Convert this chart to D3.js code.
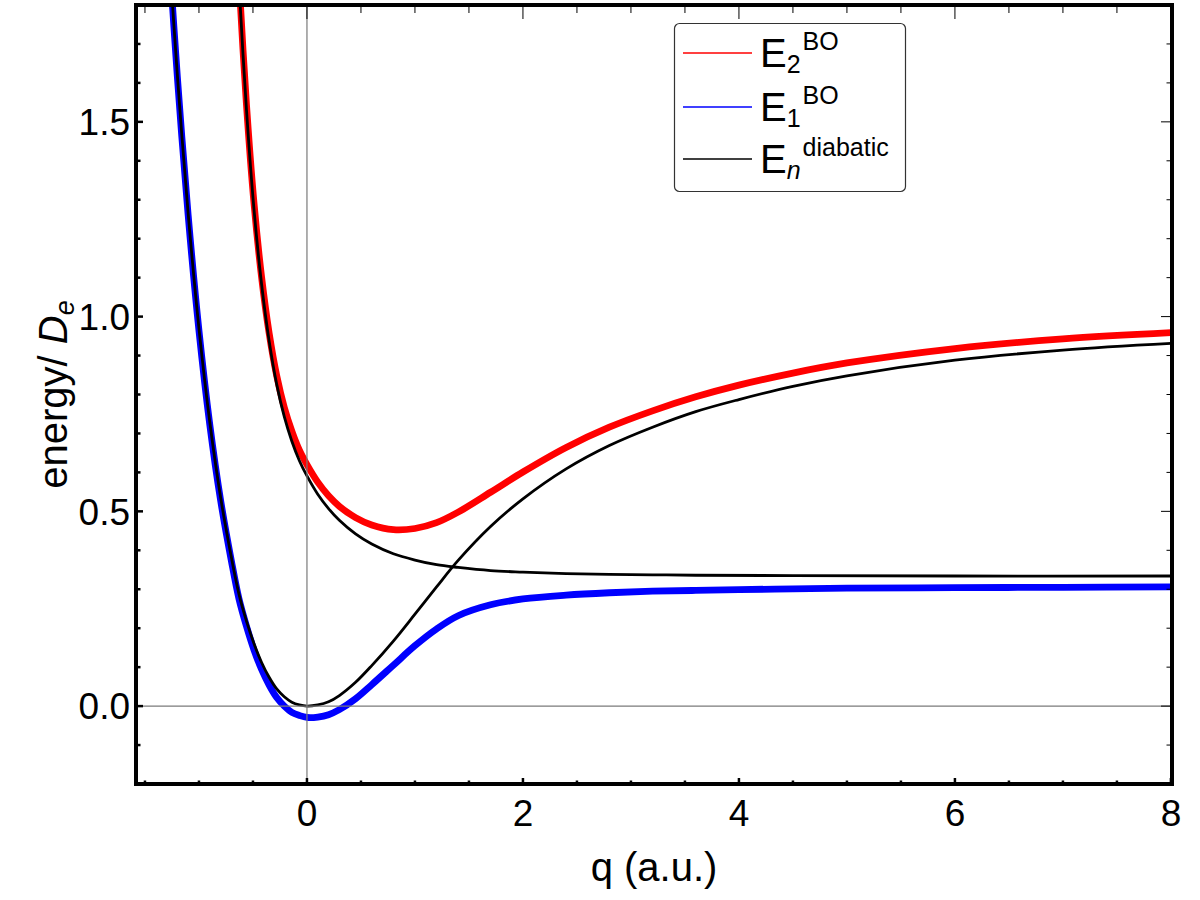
<!DOCTYPE html>
<html>
<head>
<meta charset="utf-8">
<script src="https://cdn.jsdelivr.net/npm/d3@7"></script>
<style>
  body { margin: 0; background: #fff; }
  svg { display: block; font-family: "Liberation Sans", Arial, Helvetica, sans-serif; }
</style>
</head>
<body>
<div id="chart"></div>
<script>
// energies, pairs of [q (a.u.), energy / De]
var e2BO = [[-0.66, 2.037], [-0.63, 1.869], [-0.56, 1.544], [-0.49, 1.290], [-0.42, 1.101], [-0.35, 0.957],
  [-0.28, 0.848], [-0.21, 0.767], [-0.14, 0.706], [-0.07, 0.657], [0, 0.620], [0.1, 0.575], [0.2, 0.540],
  [0.3, 0.513], [0.45, 0.484], [0.6, 0.465], [0.8, 0.453], [1.0, 0.456], [1.2, 0.471], [1.4, 0.498],
  [1.7, 0.549], [2.0, 0.601], [2.4, 0.664], [2.8, 0.716], [3.2, 0.758], [3.6, 0.794], [4.0, 0.824],
  [4.5, 0.855], [5.0, 0.881], [6.0, 0.918], [7.0, 0.943], [8.0, 0.959]];

var e1BO = [[-1.28, 1.946], [-1.2, 1.615], [-1.1, 1.26], [-1.0, 0.964], [-0.9, 0.723], [-0.8, 0.529],
  [-0.7, 0.373], [-0.63, 0.276], [-0.56, 0.205], [-0.49, 0.144], [-0.42, 0.094], [-0.35, 0.054],
  [-0.28, 0.022], [-0.21, 0.000], [-0.14, -0.016], [-0.07, -0.024], [0, -0.029], [0.1, -0.028],
  [0.2, -0.022], [0.3, -0.009], [0.45, 0.019], [0.6, 0.055], [0.8, 0.105], [1.0, 0.155], [1.2, 0.198],
  [1.4, 0.232], [1.7, 0.260], [2.0, 0.275], [2.4, 0.285], [2.8, 0.291], [3.2, 0.295], [3.6, 0.297],
  [4.0, 0.299], [4.5, 0.301], [5.0, 0.303], [6.0, 0.304], [7.0, 0.305], [8.0, 0.306]];

var diabaticLower = [[-1.28, 1.95], [-1.2, 1.62], [-1.1, 1.265], [-1.0, 0.97], [-0.9, 0.73], [-0.8, 0.537],
  [-0.7, 0.382], [-0.63, 0.288], [-0.56, 0.218], [-0.49, 0.160], [-0.42, 0.112], [-0.35, 0.074],
  [-0.28, 0.044], [-0.21, 0.024], [-0.14, 0.010], [-0.07, 0.003], [0, 0], [0.1, 0.003], [0.2, 0.011],
  [0.3, 0.027], [0.45, 0.061], [0.6, 0.104], [0.8, 0.167], [1.0, 0.236], [1.2, 0.306], [1.4, 0.374],
  [1.7, 0.461], [2.0, 0.532], [2.4, 0.609], [2.8, 0.669], [3.2, 0.716], [3.6, 0.756], [4.0, 0.787],
  [4.5, 0.821], [5.0, 0.848], [6.0, 0.888], [7.0, 0.914], [8.0, 0.931]];

var diabaticUpper = [[-0.66, 2.027], [-0.63, 1.858], [-0.56, 1.531], [-0.49, 1.274], [-0.42, 1.083],
  [-0.35, 0.937], [-0.28, 0.826], [-0.21, 0.743], [-0.14, 0.680], [-0.07, 0.630], [0, 0.591], [0.1, 0.544],
  [0.2, 0.507], [0.3, 0.477], [0.45, 0.442], [0.6, 0.416], [0.8, 0.391], [1.0, 0.375], [1.2, 0.363],
  [1.4, 0.356], [1.7, 0.348], [2.0, 0.344], [2.4, 0.340], [2.8, 0.338], [3.2, 0.337], [3.6, 0.336],
  [4.5, 0.335], [6.0, 0.334], [8.0, 0.334]];

var xTicks = [0, 2, 4, 6, 8];
var yTicks = [0.0, 0.5, 1.0, 1.5];

var legendColors = ["#ff0000", "#0000ff", "#000000"];
var legendSubs = ["2", "1", "n"];
var legendSups = ["BO", "BO", "diabatic"];

var width = 1200;
var height = 900;
var plotLeft = 136, plotRight = 1172, plotTop = 5, plotBottom = 784;

var x = d3.scaleLinear().domain([-1.583, 8.01]).range([plotLeft, plotRight]);
var y = d3.scaleLinear().domain([-0.2, 1.8]).range([plotBottom, plotTop]);

const svg = d3.select("#chart")
  .append("svg")
  .attr("width", width)
  .attr("height", height)
  .attr("viewBox", [0, 0, width, height]);

svg.append("rect").attr("width", width).attr("height", height).attr("fill", "#fff");

svg.append("clipPath").attr("id", "plotClip")
  .append("rect")
  .attr("x", plotLeft).attr("y", plotTop)
  .attr("width", plotRight - plotLeft).attr("height", plotBottom - plotTop);

const line = d3.line()
  .x(d => x(d[0]))
  .y(d => y(d[1]))
  .curve(d3.curveCatmullRom.alpha(0.5));

const plot = svg.append("g").attr("clip-path", "url(#plotClip)");

// thick adiabatic curves first, diabatic ones on top
plot.append("path").attr("d", line(e2BO))
  .attr("fill", "none").attr("stroke", "#ff0000").attr("stroke-width", 6.8);
plot.append("path").attr("d", line(e1BO))
  .attr("fill", "none").attr("stroke", "#0000ff").attr("stroke-width", 6.8);
plot.append("path").attr("d", line(diabaticLower))
  .attr("fill", "none").attr("stroke", "#000").attr("stroke-width", 2.8);
plot.append("path").attr("d", line(diabaticUpper))
  .attr("fill", "none").attr("stroke", "#000").attr("stroke-width", 2.8);

// axes through the origin
plot.append("line")
  .attr("x1", x(0)).attr("x2", x(0)).attr("y1", plotTop).attr("y2", plotBottom)
  .attr("stroke", "#7a7a7a").attr("stroke-width", 1.2);
plot.append("line")
  .attr("x1", plotLeft).attr("x2", plotRight).attr("y1", y(0)).attr("y2", y(0))
  .attr("stroke", "#7a7a7a").attr("stroke-width", 1.2);

// frame ticks
var xMinor = d3.range(-1.5, 8.01, 0.5);
var yMinor = d3.range(-0.2, 1.801, 0.1);
const ticks = svg.append("g");

xMinor.forEach(function(v) {
  var major = Math.abs(v - Math.round(v / 2) * 2) < 1e-6;
  ticks.append("line")
    .attr("x1", x(v)).attr("x2", x(v))
    .attr("y1", plotBottom).attr("y2", plotBottom - (major ? 6 : 3.5))
    .attr("stroke", "#000").attr("stroke-width", 2.5);
  ticks.append("line")
    .attr("x1", x(v)).attr("x2", x(v))
    .attr("y1", plotTop).attr("y2", plotTop + (major ? 14 : 8))
    .attr("stroke", "#000").attr("stroke-width", 1);
});

yMinor.forEach(function(v) {
  var major = Math.abs(v - Math.round(v * 2) / 2) < 1e-6;
  ticks.append("line")
    .attr("x1", plotLeft).attr("x2", plotLeft + (major ? 7 : 4.5))
    .attr("y1", y(v)).attr("y2", y(v))
    .attr("stroke", "#000").attr("stroke-width", 2.5);
  ticks.append("line")
    .attr("x1", plotRight).attr("x2", plotRight - (major ? 11 : 5.5))
    .attr("y1", y(v)).attr("y2", y(v))
    .attr("stroke", "#000").attr("stroke-width", 1);
});

// frame
svg.append("rect")
  .attr("x", plotLeft).attr("y", plotTop)
  .attr("width", plotRight - plotLeft).attr("height", plotBottom - plotTop)
  .attr("fill", "none").attr("stroke", "#000").attr("stroke-width", 4);

// tick labels
svg.append("g").selectAll("text").data(xTicks).join("text")
  .attr("x", d => x(d)).attr("y", 826)
  .attr("text-anchor", "middle")
  .attr("font-size", 37)
  .text(d => d);

svg.append("g").selectAll("text").data(yTicks).join("text")
  .attr("x", plotLeft - 6).attr("y", d => y(d))
  .attr("dy", "0.36em")
  .attr("text-anchor", "end")
  .attr("font-size", 37)
  .text(d => d3.format(".1f")(d));

// axis titles
svg.append("text")
  .attr("x", (plotLeft + plotRight) / 2).attr("y", 881)
  .attr("text-anchor", "middle")
  .attr("font-size", 40)
  .text("q (a.u.)");

const yTitle = svg.append("text")
  .attr("transform", "translate(67," + ((plotTop + plotBottom) / 2) + ") rotate(-90)")
  .attr("text-anchor", "middle")
  .attr("font-size", 40);
yTitle.append("tspan").text("energy/ ");
yTitle.append("tspan").attr("font-style", "italic").text("D");
yTitle.append("tspan").attr("font-style", "italic").attr("font-size", 27).attr("dy", 7).text("e");

// legend
const legend = svg.append("g");
legend.append("rect")
  .attr("x", 674.5).attr("y", 23.5)
  .attr("width", 231).attr("height", 168)
  .attr("rx", 5).attr("ry", 5)
  .attr("fill", "#fff").attr("stroke", "#333").attr("stroke-width", 1.2);

var legendRows = [53, 107, 159];
legendColors.forEach(function(c, i) {
  var ry = legendRows[i];
  legend.append("line")
    .attr("x1", 683).attr("x2", 752)
    .attr("y1", ry).attr("y2", ry)
    .attr("stroke", c).attr("stroke-width", 1.6);
  var t = legend.append("text")
    .attr("x", 760).attr("y", ry + 14)
    .attr("font-size", 40);
  t.append("tspan").text("E");
  t.append("tspan")
    .attr("font-size", 25).attr("dy", 6)
    .attr("font-style", legendSubs[i] === "n" ? "italic" : "normal")
    .text(legendSubs[i]);
  t.append("tspan")
    .attr("font-size", 25).attr("dy", -23).attr("dx", 2)
    .text(legendSups[i]);
});
</script>
</body>
</html>
